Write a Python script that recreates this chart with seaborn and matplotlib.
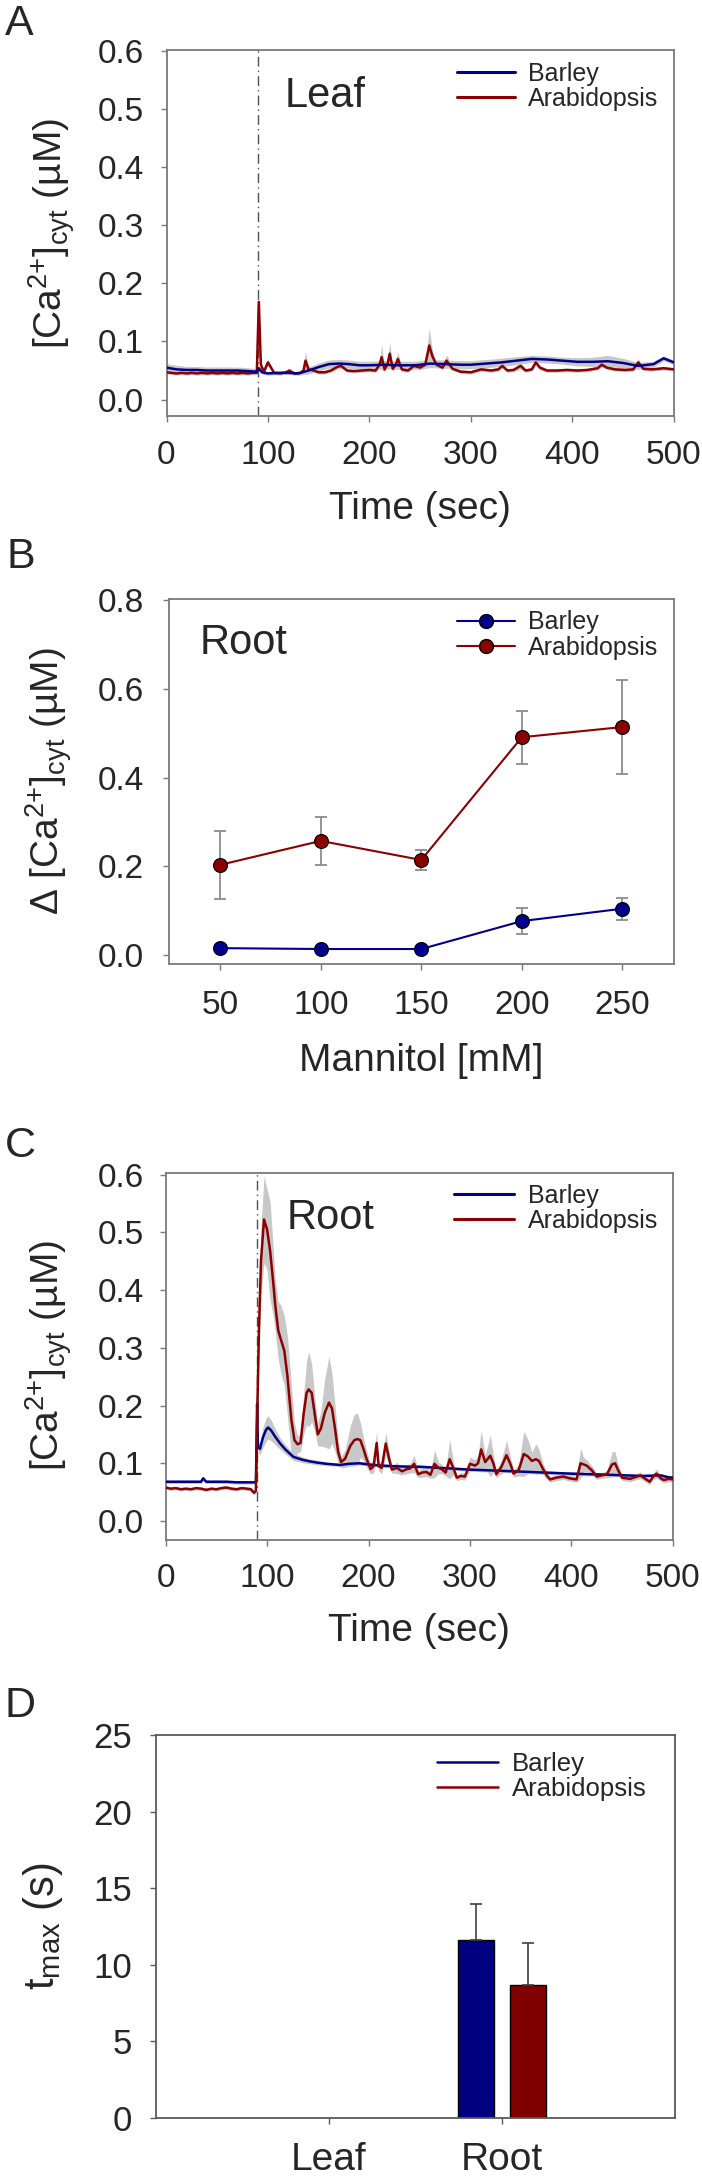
import numpy as np
import pandas as pd
import seaborn as sns
import matplotlib.pyplot as plt
from matplotlib.lines import Line2D

sns.set_theme(style='white')
plt.rcParams['font.family'] = ['Liberation Sans', 'DejaVu Sans']
plt.rcParams['mathtext.default'] = 'regular'

BLUE = '#00008b'
RED = '#8b0000'
BAND = '#c8c8c8'
SPINE = '#7a7a7a'
species = ['Barley', 'Arabidopsis']

# ---- A: leaf time course ----
tA_bar = [0, 10, 20, 30, 40, 50, 60, 70, 80, 89,
          91, 94, 100, 110, 120, 130, 140, 150, 160, 170,
          180, 190, 200, 215, 230, 245, 260, 275, 290, 300,
          315, 330, 345, 360, 375, 390, 405, 420, 435, 450,
          465, 480, 490, 500]
A_bar = [0.055, 0.052, 0.051, 0.051, 0.050, 0.050, 0.050, 0.050, 0.049, 0.048,
         0.054, 0.047, 0.045, 0.046, 0.046, 0.045, 0.050, 0.056, 0.061, 0.062,
         0.061, 0.059, 0.059, 0.060, 0.059, 0.059, 0.062, 0.061, 0.060, 0.060,
         0.062, 0.064, 0.067, 0.070, 0.069, 0.067, 0.065, 0.065, 0.066, 0.063,
         0.058, 0.061, 0.071, 0.064]
A_bar_sem = [0.007, 0.007, 0.006, 0.006, 0.006, 0.006, 0.006, 0.006, 0.006, 0.005,
             0.004, 0.003, 0.003, 0.003, 0.003, 0.003, 0.006, 0.007, 0.007, 0.007,
             0.007, 0.007, 0.007, 0.007, 0.007, 0.007, 0.007, 0.007, 0.007, 0.007,
             0.007, 0.007, 0.007, 0.006, 0.006, 0.006, 0.007, 0.008, 0.010, 0.008,
             0.006, 0.005, 0.004, 0.004]

tA_ara = [0, 5, 10, 15, 20, 25, 30, 35, 40, 45,
          50, 55, 60, 65, 70, 75, 80, 85, 89, 91,
          93, 96, 100, 102, 106, 112, 118, 121, 126, 132,
          135, 137, 140, 145, 150, 156, 162, 168, 172, 178,
          185, 192, 200, 206, 210, 212, 215, 218, 220, 223,
          226, 228, 232, 238, 244, 250, 255, 259, 262, 266,
          272, 276, 282, 290, 300, 310, 320, 327, 331, 336,
          342, 349, 354, 360, 364, 368, 375, 385, 395, 405,
          415, 425, 429, 434, 442, 452, 460, 465, 470, 478,
          485, 490, 495, 500]
A_ara = [0.047, 0.046, 0.045, 0.046, 0.045, 0.046, 0.045, 0.046, 0.045, 0.046,
         0.045, 0.046, 0.045, 0.046, 0.045, 0.046, 0.045, 0.046, 0.046, 0.168,
         0.060, 0.048, 0.064, 0.058, 0.046, 0.045, 0.047, 0.050, 0.045, 0.046,
         0.050, 0.067, 0.052, 0.050, 0.047, 0.047, 0.050, 0.056, 0.058, 0.050,
         0.049, 0.050, 0.051, 0.050, 0.060, 0.073, 0.052, 0.062, 0.079, 0.053,
         0.060, 0.070, 0.052, 0.050, 0.058, 0.055, 0.060, 0.093, 0.075, 0.060,
         0.055, 0.067, 0.053, 0.048, 0.047, 0.052, 0.050, 0.052, 0.058, 0.050,
         0.051, 0.058, 0.050, 0.052, 0.064, 0.055, 0.050, 0.050, 0.051, 0.050,
         0.051, 0.054, 0.060, 0.055, 0.052, 0.051, 0.052, 0.064, 0.053, 0.052,
         0.053, 0.054, 0.053, 0.052]
A_ara_sem = [0.003, 0.003, 0.003, 0.003, 0.003, 0.003, 0.003, 0.003, 0.003, 0.003,
             0.003, 0.003, 0.003, 0.003, 0.003, 0.003, 0.003, 0.003, 0.003, 0.004,
             0.004, 0.003, 0.005, 0.004, 0.003, 0.003, 0.003, 0.003, 0.003, 0.003,
             0.003, 0.016, 0.004, 0.003, 0.003, 0.003, 0.003, 0.004, 0.004, 0.003,
             0.003, 0.003, 0.003, 0.003, 0.005, 0.022, 0.004, 0.006, 0.020, 0.004,
             0.004, 0.012, 0.004, 0.003, 0.004, 0.004, 0.005, 0.030, 0.010, 0.004,
             0.003, 0.010, 0.003, 0.003, 0.003, 0.003, 0.003, 0.003, 0.004, 0.003,
             0.003, 0.006, 0.003, 0.003, 0.005, 0.004, 0.003, 0.003, 0.003, 0.003,
             0.003, 0.003, 0.004, 0.003, 0.003, 0.003, 0.003, 0.006, 0.003, 0.003,
             0.003, 0.003, 0.003, 0.003]

# ---- B: dose response (root) ----
mannitol = [50, 100, 150, 200, 250]
B_bar = [0.015, 0.013, 0.013, 0.076, 0.104]
B_bar_err = [0.004, 0.003, 0.003, 0.030, 0.025]
B_ara = [0.203, 0.257, 0.214, 0.491, 0.514]
B_ara_err = [0.077, 0.054, 0.023, 0.060, 0.107]

# ---- C: root time course ----
tC_bar = [0, 10, 20, 30, 35, 37, 40, 50, 60, 70,
          80, 89, 90.2, 91, 93, 96, 99, 101, 104, 108,
          113, 118, 126, 135, 143, 150, 159, 166, 172, 180,
          191, 200, 212, 224, 240, 250, 270, 300, 330, 372,
          400, 438, 470, 488, 495, 500]
C_bar = [0.068, 0.068, 0.068, 0.068, 0.068, 0.074, 0.068, 0.068, 0.068, 0.067,
         0.067, 0.067, 0.203, 0.128, 0.125, 0.145, 0.158, 0.162, 0.157, 0.146,
         0.134, 0.124, 0.111, 0.106, 0.103, 0.101, 0.099, 0.098, 0.097, 0.099,
         0.100, 0.098, 0.096, 0.095, 0.094, 0.094, 0.092, 0.089, 0.087, 0.084,
         0.082, 0.080, 0.078, 0.079, 0.076, 0.075]
C_bar_sem = [0.003, 0.003, 0.003, 0.003, 0.003, 0.003, 0.003, 0.003, 0.003, 0.003,
             0.003, 0.003, 0.010, 0.008, 0.010, 0.018, 0.020, 0.020, 0.018, 0.014,
             0.010, 0.008, 0.006, 0.005, 0.004, 0.004, 0.003, 0.003, 0.003, 0.003,
             0.003, 0.003, 0.003, 0.003, 0.003, 0.003, 0.003, 0.003, 0.003, 0.003,
             0.003, 0.003, 0.003, 0.003, 0.003, 0.003]

tC_ara = [0, 5, 10, 15, 20, 25, 30, 35, 40, 45,
          50, 55, 60, 65, 70, 75, 80, 84, 87, 89,
          90.5, 92, 94, 97, 100, 103, 106, 108, 111, 114,
          117, 120, 124, 127, 130, 133, 136, 139, 141, 144,
          147, 150, 153, 157, 161, 164, 167, 170, 173, 177,
          182, 186, 189, 192, 195, 198, 202, 205, 208, 210,
          213, 217, 220, 223, 228, 233, 238, 241, 245, 249,
          253, 257, 261, 265, 269, 272, 276, 280, 284, 287,
          291, 295, 300, 305, 308, 311, 315, 320, 323, 326,
          331, 336, 340, 343, 348, 353, 357, 361, 365, 368,
          372, 376, 379, 385, 392, 398, 405, 409, 412, 415,
          420, 425, 430, 435, 440, 443, 446, 450, 458, 463,
          468, 472, 477, 481, 484, 488, 491, 496, 500]
C_ara = [0.058, 0.056, 0.057, 0.055, 0.056, 0.055, 0.057, 0.056, 0.054, 0.056,
         0.055, 0.057, 0.058, 0.056, 0.055, 0.057, 0.056, 0.055, 0.049, 0.052,
         0.200, 0.330, 0.450, 0.522, 0.505, 0.468, 0.415, 0.375, 0.330, 0.312,
         0.295, 0.252, 0.175, 0.140, 0.133, 0.135, 0.185, 0.222, 0.228, 0.222,
         0.185, 0.150, 0.160, 0.188, 0.205, 0.195, 0.160, 0.120, 0.102, 0.108,
         0.130, 0.140, 0.142, 0.140, 0.125, 0.108, 0.090, 0.095, 0.135, 0.095,
         0.092, 0.134, 0.110, 0.089, 0.092, 0.086, 0.090, 0.091, 0.099, 0.081,
         0.084, 0.085, 0.080, 0.099, 0.092, 0.090, 0.084, 0.107, 0.090, 0.075,
         0.078, 0.077, 0.099, 0.096, 0.100, 0.124, 0.102, 0.113, 0.100, 0.081,
         0.094, 0.114, 0.098, 0.082, 0.088, 0.116, 0.112, 0.104, 0.107, 0.104,
         0.090, 0.078, 0.072, 0.075, 0.077, 0.074, 0.072, 0.100, 0.098, 0.096,
         0.088, 0.077, 0.079, 0.081, 0.098, 0.100, 0.088, 0.075, 0.073, 0.076,
         0.079, 0.074, 0.068, 0.078, 0.082, 0.074, 0.071, 0.073, 0.072]
C_ara_sem = [0.003, 0.003, 0.003, 0.003, 0.003, 0.003, 0.003, 0.003, 0.003, 0.003,
             0.003, 0.003, 0.003, 0.003, 0.003, 0.003, 0.003, 0.003, 0.004, 0.004,
             0.020, 0.040, 0.060, 0.075, 0.070, 0.085, 0.060, 0.045, 0.050, 0.060,
             0.060, 0.070, 0.060, 0.030, 0.015, 0.015, 0.035, 0.055, 0.065, 0.050,
             0.030, 0.020, 0.030, 0.060, 0.080, 0.060, 0.040, 0.020, 0.010, 0.015,
             0.035, 0.045, 0.045, 0.030, 0.020, 0.015, 0.008, 0.012, 0.020, 0.008,
             0.010, 0.020, 0.012, 0.006, 0.010, 0.006, 0.008, 0.008, 0.015, 0.006,
             0.008, 0.008, 0.006, 0.024, 0.010, 0.008, 0.006, 0.034, 0.010, 0.005,
             0.006, 0.006, 0.012, 0.010, 0.012, 0.033, 0.012, 0.036, 0.015, 0.006,
             0.012, 0.026, 0.012, 0.006, 0.010, 0.039, 0.030, 0.015, 0.027, 0.020,
             0.010, 0.006, 0.005, 0.005, 0.005, 0.005, 0.005, 0.026, 0.012, 0.010,
             0.008, 0.005, 0.005, 0.006, 0.022, 0.020, 0.010, 0.005, 0.005, 0.005,
             0.006, 0.005, 0.005, 0.006, 0.008, 0.005, 0.005, 0.005, 0.005]

# ---- D: time to maximum ----
tissues = ['Leaf', 'Root']
D_tissue = ['Root', 'Root']
D_species = ['Barley', 'Arabidopsis']
D_tmax = [11.65, 8.65]
D_err = [2.35, 2.75]

W, H = 702, 2181
fig = plt.figure(figsize=(W / 100, H / 100), dpi=100)


def add_ax(l, t, r, b):
    return fig.add_axes([l / W, 1 - b / H, (r - l) / W, (b - t) / H])


def to_ax(ax, x, y):
    p = ax.get_position()
    return (x / W - p.x0) / p.width, (1 - y / H - p.y0) / p.height


def style(ax, xpad, ypad, xsize=24, ysize=24, spine=SPINE):
    for s in ax.spines.values():
        s.set_visible(True)
        s.set_color(spine)
        s.set_linewidth(1.3)
    ax.tick_params(direction='out', length=4, width=1, color=spine, bottom=True, left=True)
    ax.tick_params(axis='x', pad=xpad, labelsize=xsize)
    ax.tick_params(axis='y', pad=ypad, labelsize=ysize)


def legend(ax, handles, x, y, fs=18, hl=2.33):
    ax.legend(handles, species, loc='upper left', bbox_to_anchor=(x / W, 1 - y / H),
              bbox_transform=fig.transFigure, frameon=False, borderpad=0, borderaxespad=0,
              handlelength=hl, handletextpad=0.54, labelspacing=0.05, fontsize=fs)


def band(ax, t, m, s):
    m, s = np.array(m), np.array(s)
    ax.fill_between(t, m - s, m + s, color=BAND, lw=0, zorder=1)


ca_label = r'[Ca$^{2{+}}$]$_{cyt}$ (µM)'
line_handles = [Line2D([], [], color=BLUE, lw=2.2), Line2D([], [], color=RED, lw=2.2)]

# Panel A
axA = add_ax(166.5, 50, 673.8, 416.2)
band(axA, tA_bar, A_bar, A_bar_sem)
band(axA, tA_ara, A_ara, A_ara_sem)
sns.lineplot(x=tA_ara, y=A_ara, ax=axA, color=RED, lw=1.8, legend=False, zorder=3)
sns.lineplot(x=tA_bar, y=A_bar, ax=axA, color=BLUE, lw=1.8, legend=False, zorder=4)
axA.axvline(90, color='#505050', lw=1, ls=(0, (7, 3, 1, 3)), zorder=2)
axA.set_xlim(0, 500)
axA.set_ylim(-0.0285, 0.601)
axA.set_xticks([0, 100, 200, 300, 400, 500])
axA.set_yticks(np.arange(0, 0.61, 0.1))
axA.yaxis.set_major_formatter(plt.FormatStrFormatter('%.1f'))
style(axA, 13, 12)
axA.set_xlabel('Time (sec)', fontsize=28)
axA.set_ylabel(ca_label, fontsize=28)
axA.xaxis.set_label_coords(0.5, to_ax(axA, 0, 490.7)[1])
axA.yaxis.set_label_coords(to_ax(axA, 77, 0)[0], 0.5)
legend(axA, line_handles, 456.7, 61.8)

# Panel B
axB = add_ax(169.2, 599.2, 673.8, 964)
axB.errorbar(mannitol, B_bar, yerr=B_bar_err, fmt='none', ecolor='#8c8c8c', elinewidth=1.3,
             capsize=4, capthick=1.3, zorder=2)
axB.errorbar(mannitol, B_ara, yerr=B_ara_err, fmt='none', ecolor='#8c8c8c', elinewidth=1.3,
             capsize=4, capthick=1.3, zorder=2)
sns.lineplot(x=mannitol, y=B_bar, ax=axB, color=BLUE, lw=1.5, marker='o', markersize=10,
             markerfacecolor=BLUE, markeredgecolor='black', markeredgewidth=0.8, legend=False, zorder=3)
sns.lineplot(x=mannitol, y=B_ara, ax=axB, color=RED, lw=1.5, marker='o', markersize=10,
             markerfacecolor=RED, markeredgecolor='black', markeredgewidth=0.8, legend=False, zorder=3)
axB.set_xlim(24.6, 275.6)
axB.set_ylim(-0.0208, 0.8025)
axB.set_xticks(mannitol)
axB.set_yticks(np.arange(0, 0.81, 0.2))
axB.yaxis.set_major_formatter(plt.FormatStrFormatter('%.1f'))
style(axB, 15, 14)
axB.set_xlabel('Mannitol [mM]', fontsize=28)
axB.set_ylabel('Δ ' + ca_label, fontsize=28)
axB.xaxis.set_label_coords(0.5, to_ax(axB, 0, 1042.9)[1])
axB.yaxis.set_label_coords(to_ax(axB, 74, 0)[0], 0.5)
marker_handles = [Line2D([], [], color=BLUE, lw=1.5, marker='o', markersize=10, mfc=BLUE, mec='black'),
                  Line2D([], [], color=RED, lw=1.5, marker='o', markersize=10, mfc=RED, mec='black')]
legend(axB, marker_handles, 456.7, 610.4)

# Panel C
axC = add_ax(165.6, 1172.5, 672.9, 1539.5)
band(axC, tC_bar, C_bar, C_bar_sem)
band(axC, tC_ara, C_ara, C_ara_sem)
sns.lineplot(x=tC_bar, y=C_bar, ax=axC, color=BLUE, lw=1.8, legend=False, zorder=3)
sns.lineplot(x=tC_ara, y=C_ara, ax=axC, color=RED, lw=1.8, legend=False, zorder=4)
axC.axvline(90, color='#505050', lw=1, ls=(0, (7, 3, 1, 3)), zorder=2)
axC.set_xlim(0, 500)
axC.set_ylim(-0.032, 0.6035)
axC.set_xticks([0, 100, 200, 300, 400, 500])
axC.set_yticks(np.arange(0, 0.61, 0.1))
axC.yaxis.set_major_formatter(plt.FormatStrFormatter('%.1f'))
style(axC, 13, 11.5)
axC.set_xlabel('Time (sec)', fontsize=28)
axC.set_ylabel(ca_label, fontsize=28)
axC.xaxis.set_label_coords(0.5, to_ax(axC, 0, 1612.7)[1])
axC.yaxis.set_label_coords(to_ax(axC, 74, 0)[0], 0.5)
legend(axC, line_handles, 454.3, 1183.5, hl=2.39)

# Panel D
axD = add_ax(155.8, 1735, 675.1, 2118)
dfD = pd.DataFrame({'tissue': D_tissue, 'species': D_species, 'tmax': D_tmax})
sns.barplot(data=dfD, x='tissue', y='tmax', hue='species', order=tissues, hue_order=species,
            palette={'Barley': '#000080', 'Arabidopsis': '#800000'}, saturation=1,
            width=0.6, gap=0.3, edgecolor='black', linewidth=1, errorbar=None, legend=False, ax=axD)
for cont, err in zip(axD.containers, D_err):
    for bar in cont:
        axD.errorbar(bar.get_x() + bar.get_width() / 2, bar.get_height(), yerr=[[0], [err]],
                     fmt='none', ecolor='#404040', elinewidth=1.2, capsize=4, capthick=1.2)
axD.set_xlim(-1, 2)
axD.set_ylim(0, 25)
axD.set_yticks([0, 5, 10, 15, 20, 25])
style(axD, 13, 13, xsize=28, ysize=25, spine='#5a5a5a')
axD.set_xlabel('')
axD.set_ylabel(r't$_{max}$ (s)', fontsize=30)
axD.yaxis.set_label_coords(to_ax(axD, 65, 0)[0], 0.5)
legend(axD, [Line2D([], [], color=BLUE, lw=1.8), Line2D([], [], color=RED, lw=1.8)],
       436.5, 1752, fs=18.5, hl=2.39)

# in-panel titles and panel letters
for txt, x, y in [('Leaf', 284.3, 107.3), ('Root', 199.2, 654), ('Root', 286.5, 1229)]:
    fig.text(x / W, 1 - y / H, txt, fontsize=30, ha='left', va='baseline')
for txt, x, y in [('A', 4.5, 35), ('B', 6.7, 568), ('C', 4.5, 1157), ('D', 4.5, 1716.7)]:
    fig.text(x / W, 1 - y / H, txt, fontsize=31, ha='left', va='baseline')

fig.savefig('out.png', dpi=100)
